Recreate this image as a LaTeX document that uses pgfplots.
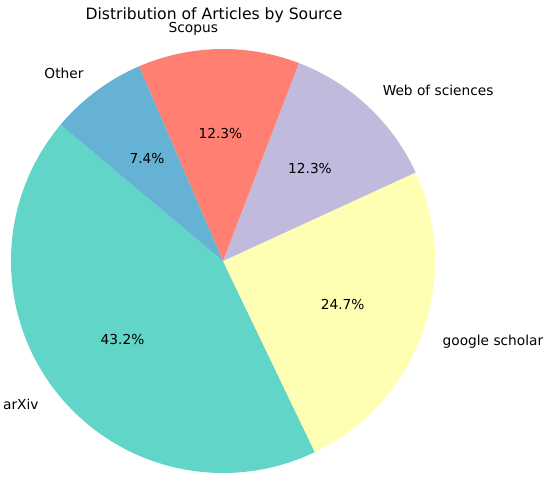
\documentclass[border=0pt]{standalone}
\usepackage{pgfplots}
\pgfplotsset{compat=1.18}
\usepackage{fontspec}
\setmainfont{DejaVu Sans}

\definecolor{arxivc}{HTML}{60D5C8}
\definecolor{gschc}{HTML}{FFFFB3}
\definecolor{wosc}{HTML}{C0BBDC}
\definecolor{scopc}{HTML}{FF8072}
\definecolor{othc}{HTML}{65B2D4}

\tikzset{
  pct/.style={font=\fontsize{10.3}{12}\selectfont, inner sep=0pt, text height=7.5pt, text depth=0pt},
  lab/.style={font=\fontsize{10.3}{12}\selectfont, inner sep=0pt, text height=7.5pt, text depth=0pt},
}

\begin{document}
\begin{tikzpicture}
\begin{axis}[
    scale only axis,
    width=412.5pt, height=360pt,
    xmin=0, xmax=550, ymin=0, ymax=480,
    hide axis, clip=false,
]
\coordinate (bl) at (axis cs:0,0);
\coordinate (tr) at (axis cs:550,480);
% share in %, colour, label; counter-clockwise from 140 degrees
\gdef\angA{140}
\foreach \v/\c/\l in {43.2/arxivc/arXiv, 24.7/gschc/google scholar,
    12.3/wosc/Web of sciences, 12.3/scopc/Scopus, 7.4/othc/Other}{%
  \pgfmathsetmacro\angB{\angA+\v/99.9*360}%
  \pgfmathsetmacro\mid{(\angA+\angB)/2}%
  \pgfmathtruncatemacro\isleft{cos(\mid)<0}%
  \ifnum\isleft=1 \def\anc{east}\else\def\anc{west}\fi
  \edef\temp{%
    \noexpand\fill[\c] (axis cs:223,219) -- ++(\angA:159pt)
      arc[start angle=\angA, end angle=\angB, radius=159pt] -- cycle;
    \noexpand\path (axis cs:223,219) ++(\mid:95.4pt)
      node[pct] {\v\noexpand\%};
    \noexpand\path (axis cs:223,219) ++(\mid:174.9pt)
      node[lab, anchor=\anc] {\l};
  }%
  \temp
  \xdef\angA{\angB}%
}
\node[anchor=base, font=\fontsize{11.7}{14}\selectfont, inner sep=0pt]
  at (axis cs:214,460.5) {Distribution of Articles by Source};
\end{axis}
\pgfresetboundingbox
\path[use as bounding box] (bl) rectangle (tr);
\end{tikzpicture}
\end{document}
